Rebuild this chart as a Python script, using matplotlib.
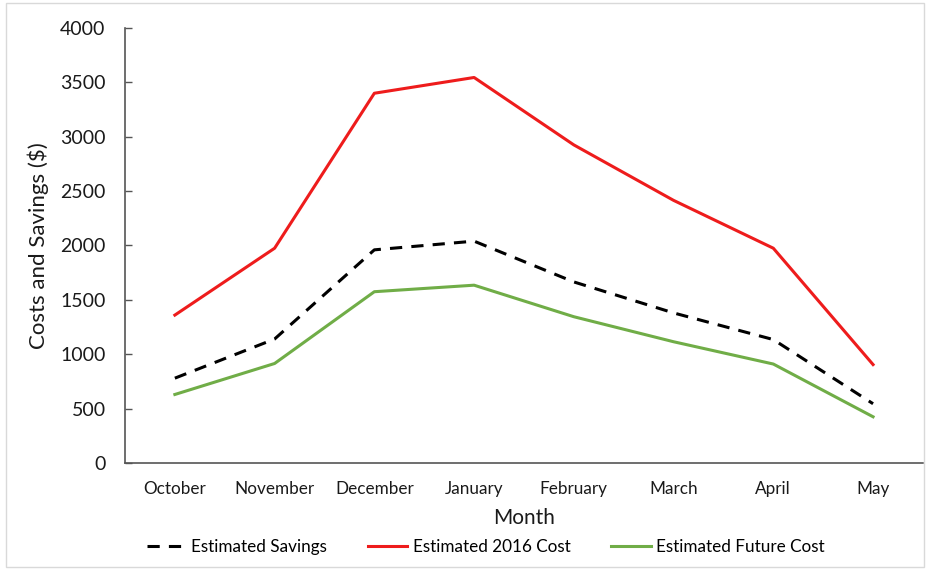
import matplotlib.pyplot as plt
import matplotlib.patches as patches
import numpy as np

months = ['October', 'November', 'December', 'January', 'February', 'March', 'April', 'May']
savings = [780, 1140, 1960, 2040, 1665, 1380, 1135, 545]
cost_2016 = [1360, 1975, 3400, 3545, 2925, 2415, 1975, 905]
future_cost = [630, 915, 1575, 1635, 1345, 1115, 910, 425]

plt.rcParams['font.family'] = ['Lato', 'DejaVu Sans']

fig = plt.figure(figsize=(9.3, 5.69), dpi=100)
ax = fig.add_axes([0.1344, 0.1863, 0.858, 0.7645])

x = np.arange(len(months))
ax.plot(x, savings, color='black', lw=2.2, dashes=(4, 3), label='Estimated Savings')
ax.plot(x, cost_2016, color='#ee1c1c', lw=2.2, label='Estimated 2016 Cost')
ax.plot(x, future_cost, color='#70ad47', lw=2.2, label='Estimated Future Cost')

ax.set_xlim(-0.5, 7.5)
ax.set_ylim(0, 4000)
ax.set_yticks(range(0, 4001, 500))
ax.set_xticks(x)
ax.set_xticklabels(months, fontsize=12.3, color='#1a1a1a')
ax.tick_params(axis='x', length=0, pad=13)
ax.tick_params(axis='y', direction='in', length=5, width=1, color='#555555',
               labelsize=14, pad=14, labelcolor='#1a1a1a')

for s in ['top', 'right']:
    ax.spines[s].set_visible(False)
for s in ['left', 'bottom']:
    ax.spines[s].set_color('#555555')
    ax.spines[s].set_linewidth(1.2)

ax.set_xlabel('Month', fontsize=15, labelpad=8, color='#1a1a1a')
ax.set_ylabel('Costs and Savings ($)', fontsize=16, labelpad=8, color='#1a1a1a')

ax.legend(loc='upper center', bbox_to_anchor=(0.452, -0.14), ncol=3, frameon=False,
          fontsize=12.3, handlelength=2.3, columnspacing=2.4, handletextpad=0.3)

fig.patches.append(patches.Rectangle((0.006, 0.004), 0.988, 0.99, transform=fig.transFigure,
                                     fill=False, edgecolor='#d9d9d9', lw=1))

fig.savefig('out.png', dpi=100)
